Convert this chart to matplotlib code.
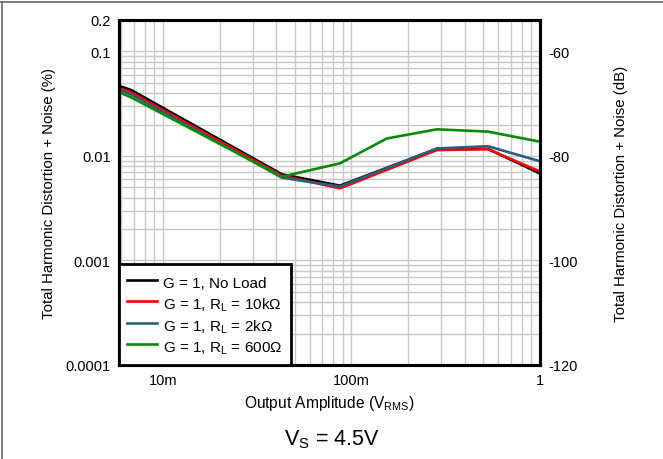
import matplotlib
matplotlib.use("Agg")
import matplotlib.pyplot as plt
import numpy as np
from matplotlib.ticker import LogLocator, FixedLocator, NullFormatter, FixedFormatter
from matplotlib.lines import Line2D

plt.rcParams['font.family'] = ['Liberation Sans', 'DejaVu Sans']
plt.rcParams['mathtext.fontset'] = 'custom'
plt.rcParams['mathtext.rm'] = 'Liberation Sans'
plt.rcParams['mathtext.it'] = 'Liberation Sans'

# ---- data ----
x_main = [0.00585, 0.00676, 0.0428, 0.0869, 0.284, 0.529, 1.0]
y_noload = [0.0469, 0.0429, 0.00667, 0.0052, 0.0117, 0.0117, 0.0068]
y_10k = [0.0445, 0.0407, 0.00648, 0.0049, 0.0114, 0.0116, 0.0071]
y_2k = [0.0426, 0.0390, 0.0062, 0.0051, 0.0118, 0.0124, 0.0089]
x_600 = [0.00585, 0.00676, 0.0428, 0.0869, 0.154, 0.284, 0.529, 1.0]
y_600 = [0.0407, 0.0365, 0.00634, 0.0085, 0.0147, 0.0180, 0.0171, 0.0137]

labels = ["G = 1, No Load",
          r"G = 1, R$_\mathregular{L}$ = 10k$\Omega$",
          r"G = 1, R$_\mathregular{L}$ = 2k$\Omega$",
          r"G = 1, R$_\mathregular{L}$ = 600$\Omega$"]
colors = ["#000000", "#ff0000", "#2e5c7c", "#0a8a0a"]

x_ticks = [0.01, 0.1, 1]
x_ticklabels = ["10m", "100m", "1"]
y_ticks = [0.0001, 0.001, 0.01, 0.1, 0.2]
y_ticklabels = ["0.0001", "0.001", "0.01", "0.1", "0.2"]
db_ticks = [-120, -100, -80, -60]
db_ticklabels = ["-120", "-100", "-80", "-60"]

fig = plt.figure(figsize=(6.63, 4.6), dpi=100)
ax = fig.add_axes([119/663, 1-366/460, (540-119)/663, (366-21)/460])

series = [(x_main, y_noload), (x_main, y_10k), (x_main, y_2k), (x_600, y_600)]
for (xs, ys), c, lab in zip(series, colors, labels):
    ax.plot(xs, ys, color=c, lw=1.9, label=lab, solid_joinstyle='miter')

ax.set_xscale('log')
ax.set_yscale('log')
ax.set_xlim(0.00585, 1.0)
ax.set_ylim(0.0001, 0.2)

ax.xaxis.set_major_locator(FixedLocator(x_ticks))
ax.xaxis.set_major_formatter(FixedFormatter(x_ticklabels))
ax.xaxis.set_minor_locator(LogLocator(base=10, subs=np.arange(2, 10)))
ax.xaxis.set_minor_formatter(NullFormatter())
ax.yaxis.set_major_locator(FixedLocator(y_ticks))
ax.yaxis.set_major_formatter(FixedFormatter(y_ticklabels))
ax.yaxis.set_minor_locator(LogLocator(base=10, subs=np.arange(2, 10)))
ax.yaxis.set_minor_formatter(NullFormatter())

ax.grid(True, which='both', color='#c8c8c8', lw=1.0)
ax.set_axisbelow(True)
ax.tick_params(which='both', length=0, labelsize=10.5, pad=6)
for s in ax.spines.values():
    s.set_linewidth(2.2)

ax.set_xlabel(r"Output Amplitude (V$_\mathregular{RMS}$)", fontsize=11.2, labelpad=4)
ax.set_ylabel("Total Harmonic Distortion + Noise (%)", fontsize=10.8, labelpad=7)

ax2 = ax.twinx()
ax2.set_ylim(20*np.log10(0.0001/100), 20*np.log10(0.2/100))
ax2.yaxis.set_major_locator(FixedLocator(db_ticks))
ax2.yaxis.set_major_formatter(FixedFormatter(db_ticklabels))
ax2.tick_params(length=0, labelsize=10.5, pad=6)
ax2.set_ylabel("Total Harmonic Distortion + Noise (dB)", fontsize=10.8, labelpad=26)
for s in ax2.spines.values():
    s.set_linewidth(2.2)

leg = ax.legend(loc='lower left', borderaxespad=0, fontsize=11, fancybox=False,
                framealpha=1, edgecolor='black', handlelength=1.95, labelspacing=0.12,
                handleheight=1.6, borderpad=0.55, handletextpad=0.4)
leg.get_frame().set_linewidth(2)
leg.set_zorder(10)
ax2.set_zorder(0)
ax.set_zorder(1)
ax.patch.set_visible(False)

fig.text(0.5, 1-440/460, r"V$_\mathregular{S}$ = 4.5V", ha='center', va='center', fontsize=15.5)

fig.add_artist(Line2D([0.0025, 0.0025], [0, 0.994], transform=fig.transFigure,
                      color='#666666', lw=1.2))
fig.add_artist(Line2D([0, 1], [0.994, 0.994], transform=fig.transFigure,
                      color='#666666', lw=1.2))

fig.savefig("out.png", dpi=100)
